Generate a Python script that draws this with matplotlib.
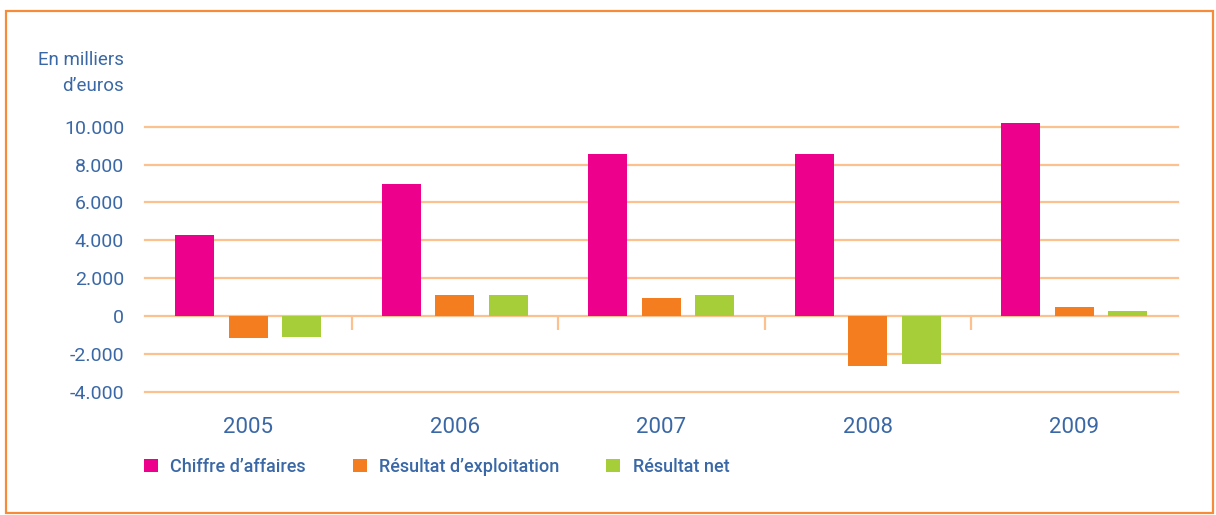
import matplotlib
matplotlib.use("Agg")
import matplotlib.pyplot as plt
from matplotlib.patches import Rectangle
import numpy as np

years = ["2005", "2006", "2007", "2008", "2009"]
chiffre_affaires = [4300, 7000, 8550, 8550, 10200]
resultat_exploitation = [-1150, 1100, 950, -2650, 500]
resultat_net = [-1100, 1100, 1100, -2500, 250]
series_names = ["Chiffre d\u2019affaires", "R\u00e9sultat d\u2019exploitation", "R\u00e9sultat net"]
yticks = [-4000, -2000, 0, 2000, 4000, 6000, 8000, 10000]
ytick_labels = ["-4.000", "-2.000", "0", "2.000", "4.000", "6.000", "8.000", "10.000"]

MAGENTA = "#EC008C"
ORANGE = "#F47D20"
GREEN = "#A6CE39"
TEXT = "#3A68A6"
GRID = "#FDC08F"
BORDER = "#F68B3A"

plt.rcParams["font.family"] = ["Roboto", "DejaVu Sans"]

fig = plt.figure(figsize=(12.16, 5.15), dpi=100)
ax = fig.add_axes([145 / 1216, (515 - 392) / 515, (1177.5 - 145) / 1216, (392 - 117.2) / 515])

x = np.arange(len(years))
w = 0.19
off = 0.259
bars = []
for k, (vals, col) in enumerate(zip([chiffre_affaires, resultat_exploitation, resultat_net],
                                     [MAGENTA, ORANGE, GREEN])):
    b = ax.bar(x + (k - 1) * off, vals, width=w, color=col, zorder=3, label=series_names[k])
    bars.append(b)

for t in yticks:
    ax.axhline(t, color=GRID, lw=1.6, zorder=1, clip_on=False)

# small separators between years, below the zero line
ax.vlines(x[:-1] + 0.5, -740, 0, color=GRID, lw=1.6, zorder=1)

ax.set_xlim(-0.5, len(years) - 0.5)
ax.set_ylim(-4000, 10500)
for s in ax.spines.values():
    s.set_visible(False)

ax.set_yticks(yticks)
ax.set_yticklabels(ytick_labels, fontsize=14, color=TEXT)
ax.set_xticks(x)
ax.set_xticklabels(years, fontsize=16, color=TEXT)
ax.tick_params(axis="y", length=0, pad=15)
ax.tick_params(axis="x", length=0, pad=18)

fig.text(124 / 1216, 1 - 73 / 515, "En milliers\nd\u2019euros", ha="right", va="center",
         fontsize=13.5, color=TEXT, linespacing=1.55)

leg = fig.legend(handles=bars, loc="center left", bbox_to_anchor=(137 / 1216, 1 - 467 / 515),
                 ncol=3, frameon=False, fontsize=13, handlelength=0.75, handleheight=0.75,
                 handletextpad=0.7, columnspacing=2.6, borderaxespad=0)
for t in leg.get_texts():
    t.set_color(TEXT)
    t.set_fontweight("medium")

fig.patches.append(Rectangle((6 / 1216, 2 / 515), 1207 / 1216, 502 / 515, transform=fig.transFigure,
                             fill=False, edgecolor=BORDER, lw=1.6))

fig.savefig("out.png", dpi=100)
